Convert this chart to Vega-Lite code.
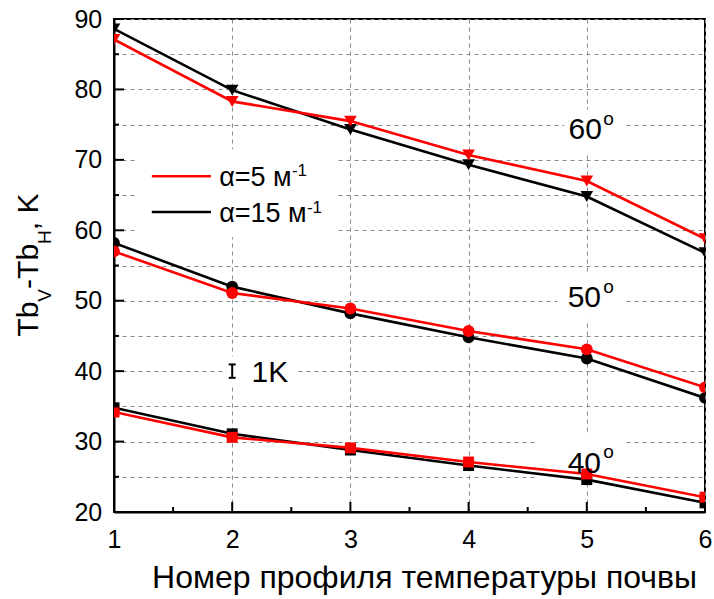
{
  "$schema": "https://vega.github.io/schema/vega-lite/v6.json",
  "width": 591,
  "height": 493,
  "autosize": {"type": "none"},
  "padding": {"left": 114, "top": 19, "right": 9, "bottom": 87},
  "background": "white",
  "config": {
    "view": {"stroke": "black", "strokeWidth": 2},
    "font": "Liberation Sans",
    "text": {"font": "Liberation Sans", "color": "black"}
  },
  "datasets": {
    "series": [
      {"x": 1, "y": 87.1, "a": "5", "g": "60"},
      {"x": 2, "y": 78.3, "a": "5", "g": "60"},
      {"x": 3, "y": 75.5, "a": "5", "g": "60"},
      {"x": 4, "y": 70.7, "a": "5", "g": "60"},
      {"x": 5, "y": 67.0, "a": "5", "g": "60"},
      {"x": 6, "y": 58.8, "a": "5", "g": "60"},
      {"x": 1, "y": 88.6, "a": "15", "g": "60"},
      {"x": 2, "y": 79.9, "a": "15", "g": "60"},
      {"x": 3, "y": 74.3, "a": "15", "g": "60"},
      {"x": 4, "y": 69.3, "a": "15", "g": "60"},
      {"x": 5, "y": 64.8, "a": "15", "g": "60"},
      {"x": 6, "y": 56.8, "a": "15", "g": "60"},
      {"x": 1, "y": 57.0, "a": "5", "g": "50"},
      {"x": 2, "y": 51.1, "a": "5", "g": "50"},
      {"x": 3, "y": 48.9, "a": "5", "g": "50"},
      {"x": 4, "y": 45.7, "a": "5", "g": "50"},
      {"x": 5, "y": 43.1, "a": "5", "g": "50"},
      {"x": 6, "y": 37.7, "a": "5", "g": "50"},
      {"x": 1, "y": 58.2, "a": "15", "g": "50"},
      {"x": 2, "y": 52.0, "a": "15", "g": "50"},
      {"x": 3, "y": 48.2, "a": "15", "g": "50"},
      {"x": 4, "y": 44.8, "a": "15", "g": "50"},
      {"x": 5, "y": 41.8, "a": "15", "g": "50"},
      {"x": 6, "y": 36.2, "a": "15", "g": "50"},
      {"x": 1, "y": 34.2, "a": "5", "g": "40"},
      {"x": 2, "y": 30.6, "a": "5", "g": "40"},
      {"x": 3, "y": 29.1, "a": "5", "g": "40"},
      {"x": 4, "y": 27.1, "a": "5", "g": "40"},
      {"x": 5, "y": 25.4, "a": "5", "g": "40"},
      {"x": 6, "y": 22.1, "a": "5", "g": "40"},
      {"x": 1, "y": 34.8, "a": "15", "g": "40"},
      {"x": 2, "y": 31.1, "a": "15", "g": "40"},
      {"x": 3, "y": 28.8, "a": "15", "g": "40"},
      {"x": 4, "y": 26.6, "a": "15", "g": "40"},
      {"x": 5, "y": 24.6, "a": "15", "g": "40"},
      {"x": 6, "y": 21.3, "a": "15", "g": "40"}
    ],
    "boxes": [
      {"x": 1.195, "x2": 2.885, "y": 59.0, "y2": 71.5},
      {"x": 4.81, "x2": 5.31, "y": 71.0, "y2": 77.1},
      {"x": 4.75, "x2": 5.32, "y": 47.3, "y2": 54.1},
      {"x": 4.575, "x2": 5.335, "y": 24.6, "y2": 30.85},
      {"x": 1.955, "x2": 2.547, "y": 38.1, "y2": 42.1}
    ],
    "legendLines": [
      {"x": 1.32, "x2": 1.82, "y": 67.67, "a": "5"},
      {"x": 1.32, "x2": 1.82, "y": 62.6, "a": "15"}
    ],
    "bigLabels": [
      {"x": 4.846, "y": 72.9, "t": "60"},
      {"x": 4.838, "y": 49.16, "t": "50"},
      {"x": 4.838, "y": 25.6, "t": "40"},
      {"x": 2.164, "y": 38.47, "t": "1K"}
    ],
    "degLabels": [
      {"x": 5.14, "y": 75.0, "t": "o"},
      {"x": 5.14, "y": 51.15, "t": "o"},
      {"x": 5.14, "y": 27.6, "t": "o"}
    ],
    "legendText": [
      {"x": 1.89, "y": 66.35, "t": "α=5 м"},
      {"x": 1.89, "y": 61.14, "t": "α=15 м"}
    ],
    "legendSup": [
      {"x": 2.505, "y": 67.77, "t": "-1"},
      {"x": 2.632, "y": 62.47, "t": "-1"}
    ],
    "yTitleMain": [
      {"x": 0.3576, "y": 44.9, "t": "Tb"},
      {"x": 0.3576, "y": 51.68, "t": "-Tb"},
      {"x": 0.3576, "y": 60.01, "t": ", K"}
    ],
    "yTitleSub": [
      {"x": 0.4675, "y": 49.87, "t": "V"},
      {"x": 0.4675, "y": 58.07, "t": "H"}
    ],
    "errBar": [
      {"x": 2, "y": 39.05, "y2": 40.95}
    ],
    "errCaps": [
      {"x": 2, "y": 39.05},
      {"x": 2, "y": 40.95}
    ],
    "yMajor": [
      {"x": 1, "y": 20}, {"x": 1, "y": 30}, {"x": 1, "y": 40}, {"x": 1, "y": 50},
      {"x": 1, "y": 60}, {"x": 1, "y": 70}, {"x": 1, "y": 80}, {"x": 1, "y": 90}
    ],
    "yMinor": [
      {"x": 1, "y": 25}, {"x": 1, "y": 35}, {"x": 1, "y": 45}, {"x": 1, "y": 55},
      {"x": 1, "y": 65}, {"x": 1, "y": 75}, {"x": 1, "y": 85}
    ],
    "xMajor": [
      {"x": 1, "y": 20}, {"x": 2, "y": 20}, {"x": 3, "y": 20},
      {"x": 4, "y": 20}, {"x": 5, "y": 20}, {"x": 6, "y": 20}
    ],
    "xMinor": [
      {"x": 1.5, "y": 20}, {"x": 2.5, "y": 20}, {"x": 3.5, "y": 20},
      {"x": 4.5, "y": 20}, {"x": 5.5, "y": 20}
    ]
  },
  "encoding": {
    "x": {
      "field": "x",
      "type": "quantitative",
      "scale": {"domain": [1, 6], "nice": false, "zero": false},
      "axis": {
        "values": [1, 2, 3, 4, 5, 6],
        "format": "d",
        "labelFont": "Liberation Sans",
        "labelFontSize": 25,
        "labelColor": "black",
        "labelFlush": false,
        "labelOverlap": false,
        "labelBaseline": "alphabetic",
        "labelPadding": 35.5,
        "ticks": false,
        "domainColor": "black",
        "domainWidth": 2,
        "grid": true,
        "gridColor": "#888888",
        "gridDash": [4, 4],
        "gridWidth": 1,
        "title": "Номер профиля температуры почвы",
        "titleFont": "Liberation Sans",
        "titleFontSize": 32,
        "titleFontWeight": "normal",
        "titleColor": "black",
        "titleBaseline": "alphabetic",
        "titleAlign": "center",
        "titleX": 310,
        "titleY": 75.5
      }
    },
    "y": {
      "field": "y",
      "type": "quantitative",
      "scale": {"domain": [20, 90], "nice": false, "zero": false},
      "axis": {
        "values": [20, 25, 30, 35, 40, 45, 50, 55, 60, 65, 70, 75, 80, 85, 90],
        "labelExpr": "datum.value % 10 === 0 ? datum.label : ''",
        "labelFont": "Liberation Sans",
        "labelFontSize": 25,
        "labelColor": "black",
        "labelFlush": false,
        "labelOverlap": false,
        "labelPadding": 12.3,
        "ticks": false,
        "domainColor": "black",
        "domainWidth": 2,
        "grid": true,
        "gridColor": "#888888",
        "gridDash": [4, 4],
        "gridWidth": 1,
        "title": null
      }
    }
  },
  "layer": [
    {
      "data": {"name": "boxes"},
      "mark": {"type": "rect", "fill": "white", "stroke": null},
      "encoding": {"x2": {"field": "x2"}, "y2": {"field": "y2"}}
    },
    {
      "data": {"name": "series"},
      "transform": [{"filter": "datum.a === '15'"}],
      "mark": {"type": "line", "color": "black", "strokeWidth": 2.6, "clip": true},
      "encoding": {"detail": {"field": "g"}}
    },
    {
      "data": {"name": "series"},
      "transform": [{"filter": "datum.a === '15'"}],
      "mark": {"type": "point", "filled": true, "color": "black", "opacity": 1, "clip": true},
      "encoding": {
        "shape": {"field": "g", "scale": {"domain": ["60", "50", "40"], "range": ["triangle-down", "circle", "square"]}, "legend": null},
        "size": {"field": "g", "type": "nominal", "scale": {"domain": ["60", "50", "40"], "range": [160, 120, 110]}, "legend": null}
      }
    },
    {
      "data": {"name": "series"},
      "transform": [{"filter": "datum.a === '5'"}],
      "mark": {"type": "line", "color": "#ff0000", "strokeWidth": 2.6, "clip": true},
      "encoding": {"detail": {"field": "g"}}
    },
    {
      "data": {"name": "series"},
      "transform": [{"filter": "datum.a === '5'"}],
      "mark": {"type": "point", "filled": true, "color": "#ff0000", "opacity": 1, "clip": true},
      "encoding": {
        "shape": {"field": "g", "scale": {"domain": ["60", "50", "40"], "range": ["triangle-down", "circle", "square"]}, "legend": null},
        "size": {"field": "g", "type": "nominal", "scale": {"domain": ["60", "50", "40"], "range": [160, 120, 110]}, "legend": null}
      }
    },
    {
      "data": {"name": "yMajor"},
      "mark": {"type": "tick", "orient": "horizontal", "color": "black", "size": 10, "thickness": 2, "opacity": 1, "xOffset": 5}
    },
    {
      "data": {"name": "yMinor"},
      "mark": {"type": "tick", "orient": "horizontal", "color": "black", "size": 5, "thickness": 2, "opacity": 1, "xOffset": 2.5}
    },
    {
      "data": {"name": "xMajor"},
      "mark": {"type": "tick", "orient": "vertical", "color": "black", "size": 10, "thickness": 2, "opacity": 1, "yOffset": -5}
    },
    {
      "data": {"name": "xMinor"},
      "mark": {"type": "tick", "orient": "vertical", "color": "black", "size": 5, "thickness": 2, "opacity": 1, "yOffset": -2.5}
    },
    {
      "data": {"name": "legendLines"},
      "mark": {"type": "rule", "strokeWidth": 2.6},
      "encoding": {
        "x2": {"field": "x2"},
        "color": {"field": "a", "type": "nominal", "scale": {"domain": ["5", "15"], "range": ["#ff0000", "black"]}, "legend": null}
      }
    },
    {
      "data": {"name": "bigLabels"},
      "mark": {"type": "text", "fontSize": 30, "align": "left", "baseline": "alphabetic"},
      "encoding": {"text": {"field": "t"}}
    },
    {
      "data": {"name": "degLabels"},
      "mark": {"type": "text", "fontSize": 19, "align": "left", "baseline": "alphabetic"},
      "encoding": {"text": {"field": "t"}}
    },
    {
      "data": {"name": "legendText"},
      "mark": {"type": "text", "fontSize": 27, "align": "left", "baseline": "alphabetic"},
      "encoding": {"text": {"field": "t"}}
    },
    {
      "data": {"name": "legendSup"},
      "mark": {"type": "text", "fontSize": 17, "align": "left", "baseline": "alphabetic"},
      "encoding": {"text": {"field": "t"}}
    },
    {
      "data": {"name": "yTitleMain"},
      "mark": {"type": "text", "fontSize": 30, "align": "left", "baseline": "alphabetic", "angle": 270},
      "encoding": {"text": {"field": "t"}}
    },
    {
      "data": {"name": "yTitleSub"},
      "mark": {"type": "text", "fontSize": 19, "align": "left", "baseline": "alphabetic", "angle": 270},
      "encoding": {"text": {"field": "t"}}
    },
    {
      "data": {"name": "errBar"},
      "mark": {"type": "rule", "color": "black", "strokeWidth": 2},
      "encoding": {"y2": {"field": "y2"}}
    },
    {
      "data": {"name": "errCaps"},
      "mark": {"type": "tick", "orient": "horizontal", "color": "black", "size": 7, "thickness": 2, "opacity": 1}
    }
  ]
}
